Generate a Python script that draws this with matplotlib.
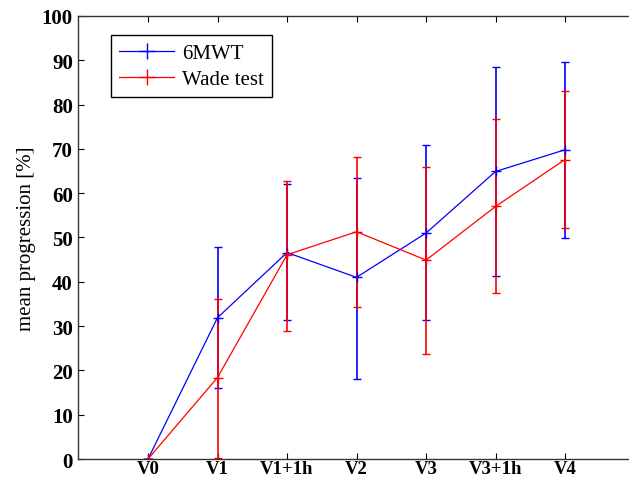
import matplotlib
matplotlib.use("Agg")
import matplotlib.pyplot as plt
from matplotlib.lines import Line2D
import numpy as np

# visits on the x axis
visits = ["V0", "V1", "V1+1h", "V2", "V3", "V3+1h", "V4"]

# 6MWT: mean and error-bar ends
mwt_mean = [0.0, 31.9, 46.6, 41.0, 51.0, 64.9, 69.8]
mwt_low = [0.0, 16.1, 31.3, 18.1, 31.3, 41.2, 49.9]
mwt_high = [0.0, 47.9, 62.1, 63.5, 70.8, 88.4, 89.6]

# Wade test: mean and error-bar ends
wade_mean = [0.0, 18.4, 46.1, 51.3, 44.9, 57.0, 67.6]
wade_low = [0.0, 0.2, 28.8, 34.4, 23.6, 37.5, 52.2]
wade_high = [0.0, 36.1, 62.8, 68.2, 65.9, 76.7, 83.1]

SERIF = ["Liberation Serif", "DejaVu Serif"]

x = np.arange(1, len(visits) + 1)

fig = plt.figure(figsize=(6.29, 4.85), dpi=100)
# right spine sits just outside the picture, as in the cropped original
ax = fig.add_axes([0.1248, 0.0515, 0.884, 0.9135])

handles = []
for mean, lo, hi, color, label in [
    (mwt_mean, mwt_low, mwt_high, "#0000FF", "6MWT"),
    (wade_mean, wade_low, wade_high, "#FF0000", "Wade test"),
]:
    mean = np.array(mean)
    yerr = [mean - np.array(lo), np.array(hi) - mean]
    ax.errorbar(x, mean, yerr=yerr, color=color, lw=0.9, elinewidth=1.2,
                capsize=3, capthick=1.1, marker="+", ms=7, mew=1.0)
    handles.append(Line2D([], [], color=color, lw=0.9, marker="+", ms=11, mew=1.0, label=label))

ax.set_xlim(0, 8)
ax.set_ylim(0, 100)
ax.set_xticks(x)
ax.set_xticklabels(visits)
ax.set_yticks(np.arange(0, 101, 10))
ax.tick_params(direction="in", length=4.5, width=0.8, top=True, right=True,
               pad=4, labelsize=15, colors="#000000")
ax.tick_params(axis="x", pad=1, labelsize=13.5)
for lab in ax.get_xticklabels() + ax.get_yticklabels():
    lab.set_family(SERIF)
    lab.set_fontweight("bold")
for s in ax.spines.values():
    s.set_color("#333333")
    s.set_linewidth(1.0)

ax.set_ylabel("mean progression [%]", family=SERIF, fontsize=15, labelpad=4)

leg = ax.legend(handles=handles, loc="upper left", bbox_to_anchor=(0.04, 0.98),
                prop={"family": SERIF, "size": 15},
                fancybox=False, edgecolor="#000000", framealpha=1, handlelength=2.6,
                borderpad=0.4, labelspacing=0.3, handletextpad=0.4)
leg.get_frame().set_linewidth(1.0)

fig.savefig("out.png", dpi=100)
